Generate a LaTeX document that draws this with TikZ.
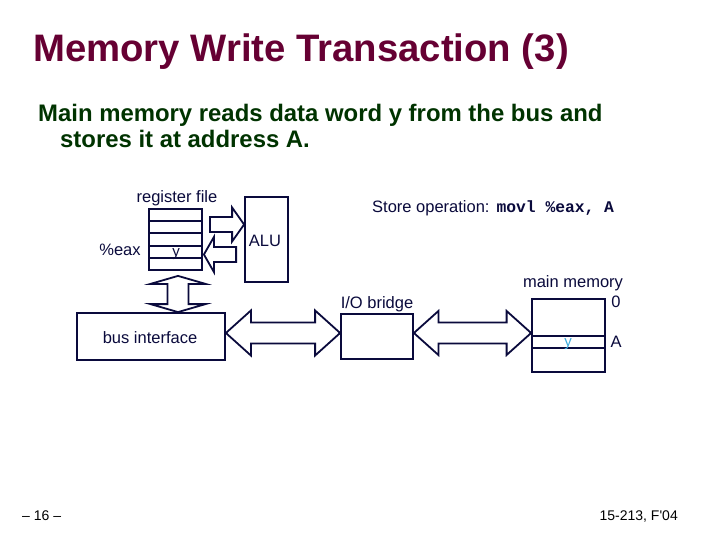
\documentclass[tikz,border=0pt]{standalone}
\usepackage{fontspec}
\setmainfont{Liberation Sans}
\setmonofont{Liberation Mono}
\usetikzlibrary{calc}
\definecolor{navy}{RGB}{10,10,60}
\definecolor{titlecol}{RGB}{102,0,51}
\definecolor{subcol}{RGB}{0,51,0}
\definecolor{ycol}{RGB}{60,170,220}
\newcommand{\hdarrow}[5]{% left tip, right tip, head length, head half, shaft half
  \draw[fat] let \p1=(#1), \p2=(#2) in (\p1) -- ({\x1+#3},{\y1+#4}) -- ({\x1+#3},{\y1+#5}) -- ({\x2-#3},{\y1+#5})
    -- ({\x2-#3},{\y1+#4}) -- (\p2) -- ({\x2-#3},{\y1-#4}) -- ({\x2-#3},{\y1-#5}) -- ({\x1+#3},{\y1-#5}) -- ({\x1+#3},{\y1-#4}) -- cycle;}
\newcommand{\hsarrow}[5]{% tail, tip, signed head length, head half, shaft half
  \draw[fat] let \p1=(#1), \p2=(#2) in ({\x1},{\y1+#5}) -- ({\x2-1*(#3)},{\y1+#5}) -- ({\x2-1*(#3)},{\y1+#4}) -- (\p2)
    -- ({\x2-1*(#3)},{\y1-#4}) -- ({\x2-1*(#3)},{\y1-#5}) -- ({\x1},{\y1-#5}) -- cycle;}
\begin{document}
\begin{tikzpicture}[x=1pt,y=-1pt,
  box/.style={draw=navy, line width=1.8pt, minimum width=#1, inner sep=0pt},
  fat/.style={draw=navy, fill=white, line width=1.8pt, line join=miter},
  lbl/.style={text=navy, font=\fontsize{16.5}{19}\selectfont, inner sep=0pt},
  row/.style={draw=navy, line width=1.8pt}]
\useasboundingbox[fill=white] (0,0) rectangle (720,540);

% title and text
\node[anchor=base west, inner sep=0pt, text=titlecol, font=\fontsize{38.3}{44}\selectfont\bfseries] (title) at (33,62) {Memory Write Transaction (3)};
\node[anchor=base west, inner sep=0pt, text=subcol, font=\fontsize{23.9}{27}\selectfont\bfseries] (sub1) at (38,122) {Main memory reads data word y from the bus and};
\node[anchor=base west, inner sep=0pt, text=subcol, font=\fontsize{23.9}{27}\selectfont\bfseries] (sub2) at (60,148) {stores it at address A.};

% helper rows
\coordinate (yr1) at (0,221);
\coordinate (yr2) at (0,233);
\coordinate (yr3) at (0,246);
\coordinate (yr4) at (0,258);
\coordinate (ym1) at (0,336);
\coordinate (ym2) at (0,348);
\coordinate (yup) at (0,224.5);
\coordinate (ydn) at (0,254.5);
\coordinate (busy) at (0,333);

% register file
\node[box=53pt, minimum height=61pt] (regfile) at (175.5,239.5) {};
\foreach \yy in {yr1,yr2,yr3,yr4} \draw[row] (regfile.west |- \yy) -- (regfile.east |- \yy);
\node[lbl, anchor=base] (rflabel) at (177,203) {register file};
\node[lbl, anchor=base] (eax) at (120,255) {\%eax};
\node[lbl, anchor=base, font=\fontsize{15}{17}\selectfont] (ry) at (176,256) {y};

% ALU
\node[box=43pt, minimum height=85pt] (alu) at (266.5,239.5) {};
\node[lbl, anchor=base] (alulabel) at (265,247) {ALU};

% bus interface
\node[box=148pt, minimum height=47pt] (bus) at (151,336.5) {};
\node[lbl, anchor=base] (buslabel) at (150,343) {bus interface};

% I/O bridge
\node[box=72pt, minimum height=45pt] (bridge) at (377,336.5) {};
\node[lbl, anchor=base] (bridgelabel) at (377,308) {I/O bridge};

% main memory
\node[box=73pt, minimum height=73pt] (mem) at (568.5,335.5) {};
\foreach \yy in {ym1,ym2} \draw[row] (mem.west |- \yy) -- (mem.east |- \yy);
\node[lbl, anchor=base] (memlabel) at (573,287) {main memory};
\node[lbl, anchor=base] (zero) at (616,307) {0};
\node[lbl, anchor=base] (addrA) at (616,347) {A};
\node[lbl, anchor=base, text=ycol, font=\fontsize{15}{17}\selectfont] (my) at (568,346) {y};

% store operation
\node[lbl, anchor=base west] (store) at (372,212) {Store operation:\hspace{7pt}{\ttfamily\bfseries\fontsize{16.3}{19}\selectfont movl \%eax, A}};

% arrows
\coordinate (t1) at ($(regfile.east |- yup)+(7,0)$);
\coordinate (h1) at (alu.west |- yup);
\coordinate (t2) at ($(alu.west |- ydn)+(-8,0)$);
\coordinate (h2) at ($(regfile.east |- ydn)+(1,0)$);
\hsarrow{t1}{h1}{12pt}{17pt}{7.5pt}
\hsarrow{t2}{h2}{-10pt}{17.5pt}{7.5pt}
\coordinate (vt) at ($(regfile.south)+(2.5,5)$);
\coordinate (vb) at (bus.north -| vt);
\draw[fat] let \p1=(vt), \p2=(vb) in
  (\p1) -- ({\x1+27.5pt},{\y1-8pt}) -- ({\x1+10.5pt},{\y1-8pt}) -- ({\x1+10.5pt},{\y2+8pt}) -- ({\x1+27.5pt},{\y2+8pt})
  -- (\p2) -- ({\x1-27.5pt},{\y2+8pt}) -- ({\x1-10.5pt},{\y2+8pt}) -- ({\x1-10.5pt},{\y1-8pt}) -- ({\x1-27.5pt},{\y1-8pt}) -- cycle;
\coordinate (b1) at (bus.east |- busy);
\coordinate (b2) at (bridge.west |- busy);
\coordinate (b3) at (bridge.east |- busy);
\coordinate (b4) at (mem.west |- busy);
\hdarrow{b1}{b2}{25pt}{22.5pt}{10.5pt}
\hdarrow{b3}{b4}{24.5pt}{22pt}{10.5pt}

% footer
\node[anchor=base west, inner sep=0pt, font=\fontsize{14}{16}\selectfont] (page) at (22,520) {– 16 –};
\node[anchor=base east, inner sep=0pt, font=\fontsize{14}{16}\selectfont] (course) at (678,520) {15-213, F\textquotesingle 04};
\end{tikzpicture}
\end{document}
